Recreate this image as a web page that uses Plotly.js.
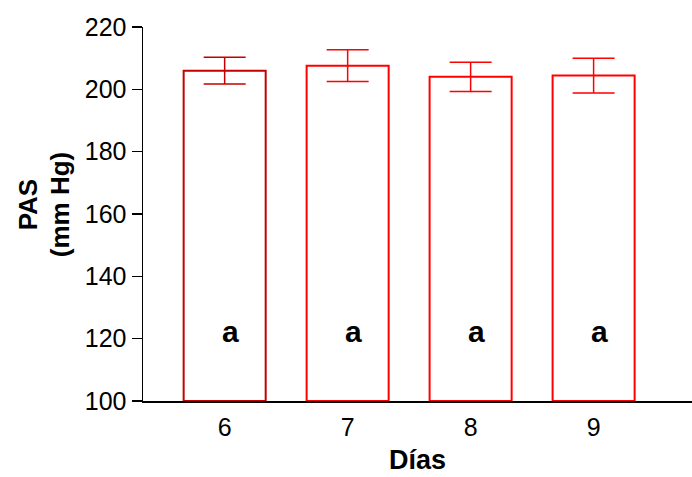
<!DOCTYPE html>
<html>
<head>
<meta charset="utf-8">
<script src="https://cdn.plot.ly/plotly-3.0.1.min.js"></script>
<style>html,body{margin:0;padding:0;background:#fff;}#chart{width:692px;height:477px;}</style>
</head>
<body>
<div id="chart"></div>
<script>
const dias = ["6", "7", "8", "9"];
const pas = [206.0, 207.6, 204.0, 204.4];
const errPas = [4.3, 5.1, 4.7, 5.6];
const letras = ["a", "a", "a", "a"];
const letraY = [122.4, 122.4, 122.4, 122.4];
const yTitleLines = ["PAS", "(mm Hg)"];
const xTitle = "Días";

const barColors = ["#c40000", "#ff0000", "#ff0000", "#ff0000"];

const traces = dias.map((d, i) => ({
  type: "bar",
  x: [d],
  y: [pas[i] - 100],
  base: 100,
  width: 0.667,
  marker: { color: "rgba(255,255,255,0)", line: { color: barColors[i], width: 2 } },
  error_y: { type: "data", array: [errPas[i]], visible: true, color: barColors[i], thickness: 1.5, width: 21 },
  hoverinfo: "none"
}));

const letterAnns = dias.map((d, i) => ({
  xref: "x", yref: "y", x: i, y: letraY[i], xshift: 6,
  text: "<b>" + letras[i] + "</b>", showarrow: false,
  font: { size: 30, color: "#000" }
}));

const layout = {
  width: 692, height: 477,
  margin: { l: 143, r: 0, t: 27, b: 76 },
  paper_bgcolor: "#fff", plot_bgcolor: "#fff",
  showlegend: false,
  barmode: "overlay",
  font: { family: "Liberation Sans, Arial, sans-serif", color: "#000" },
  xaxis: {
    type: "category",
    range: [-0.664, 3.80],
    showline: true, linecolor: "#000", linewidth: 1.5,
    ticks: "", showgrid: false, zeroline: false,
    ticklabelstandoff: 3,
    tickfont: { size: 25, color: "#000" },
    title: { text: "<b>" + xTitle + "</b>", font: { size: 27, color: "#000" }, standoff: 10 }
  },
  yaxis: {
    range: [100, 220],
    tickvals: [100, 120, 140, 160, 180, 200, 220],
    showline: true, linecolor: "#000", linewidth: 1.5,
    ticks: "outside", ticklen: 10, tickwidth: 1.5, tickcolor: "#000",
    showgrid: false, zeroline: false,
    tickfont: { size: 25, color: "#000" }
  },
  annotations: letterAnns.concat([
    { xref: "paper", yref: "paper", x: -0.21, y: 0.525, xanchor: "center", yanchor: "middle",
      textangle: -90, showarrow: false, text: "<b>" + yTitleLines[0] + "</b>", font: { size: 26, color: "#000" } },
    { xref: "paper", yref: "paper", x: -0.152, y: 0.525, xanchor: "center", yanchor: "middle",
      textangle: -90, showarrow: false, text: "<b>" + yTitleLines[1] + "</b>", font: { size: 26, color: "#000" } }
  ])
};

Plotly.newPlot("chart", traces, layout, { displayModeBar: false, staticPlot: true });
</script>
</body>
</html>
